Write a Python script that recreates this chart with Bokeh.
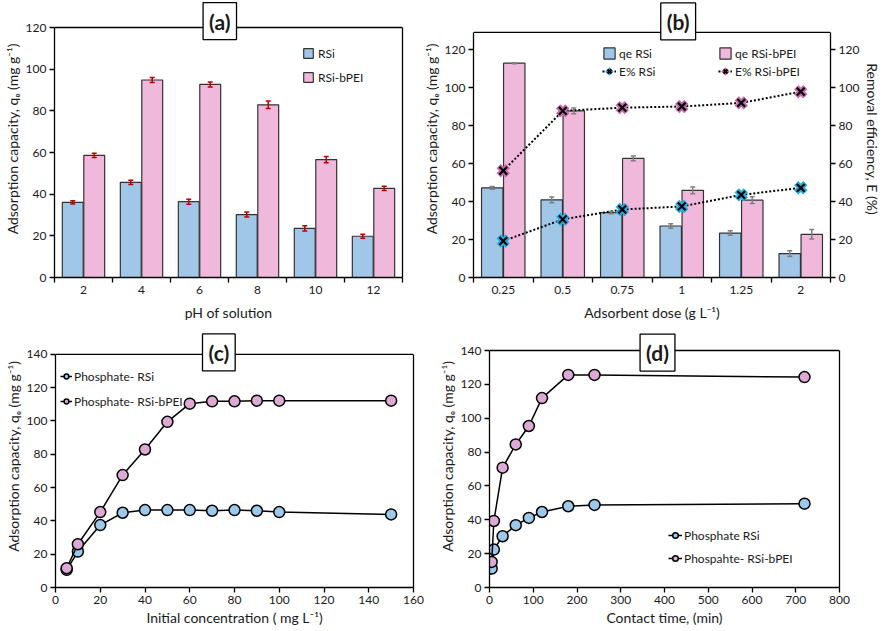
import numpy as np
from bokeh.plotting import figure
from bokeh.models import (Range1d, LinearAxis, FixedTicker, Legend, LegendItem, Label, Span,
                          Whisker, TeeHead, ColumnDataSource)
from bokeh.layouts import row, column
from bokeh.embed import file_html
from bokeh.resources import INLINE

FONT = "Lato"
TXT = "#1a1a1a"
BLUE = "#A0C6E8"
PINK = "#F0B9DC"
MBLUE = "#9CC8EA"
MPINK = "#DDAAD4"
CYAN = "#1FB0E6"
MAUVE = "#C86AAE"
RED = "#C00000"

# ---------------- data ----------------
ph_labels = ["2", "4", "6", "8", "10", "12"]
ph_rsi = [36.1, 45.7, 36.4, 30.2, 23.6, 19.8]
ph_rsi_err = [0.8, 1.0, 1.2, 1.2, 1.3, 1.0]
ph_bpei = [58.6, 94.8, 92.7, 82.9, 56.6, 42.8]
ph_bpei_err = [1.0, 1.2, 1.2, 1.8, 1.5, 1.0]

dose_labels = ["0.25", "0.5", "0.75", "1", "1.25", "2"]
dose_rsi = [47.2, 40.9, 34.1, 27.1, 23.4, 12.6]
dose_rsi_err = [0.7, 1.5, 0.6, 1.2, 1.2, 1.5]
dose_bpei = [112.8, 87.7, 62.7, 45.9, 40.7, 22.7]
dose_bpei_err = [0.3, 1.5, 1.2, 1.8, 1.8, 2.5]
eff_rsi = [19.2, 30.6, 35.8, 37.4, 43.5, 47.2]
eff_bpei = [56.2, 87.7, 89.4, 90.0, 91.9, 97.8]

conc = [5, 10, 20, 30, 40, 50, 60, 70, 80, 90, 100, 150]
conc_rsi = [10.6, 21.6, 37.5, 44.9, 46.5, 46.5, 46.5, 46.1, 46.5, 46.1, 45.3, 43.9]
conc_bpei = [11.6, 26.0, 45.3, 67.5, 82.9, 99.5, 110.4, 111.8, 111.8, 112.2, 112.2, 112.2]

time_min = [5, 10, 30, 60, 90, 120, 180, 240, 720]
time_rsi = [11.2, 22.4, 30.3, 36.8, 41.1, 44.6, 48.0, 48.8, 49.5]
time_bpei = [15.1, 39.3, 70.8, 84.5, 95.4, 111.9, 125.6, 125.6, 124.3]

YLABEL = "Adsorption capacity, q\u2091 (mg g\u207b\u00b9)"


def style_axis(ax):
    ax.axis_line_color = "black"
    ax.axis_line_width = 1.3
    ax.major_tick_line_color = "black"
    ax.major_tick_line_width = 1.3
    ax.major_tick_in = 0
    ax.major_tick_out = 5
    ax.minor_tick_line_color = None
    ax.major_label_text_font = FONT
    ax.major_label_text_font_size = "12px"
    ax.major_label_text_color = TXT
    ax.major_label_standoff = 3
    ax.axis_label_text_font = FONT
    ax.axis_label_text_font_size = "14px"
    ax.axis_label_text_font_style = "normal"
    ax.axis_label_text_color = TXT
    ax.axis_label_standoff = 2


def style(p, ytop, right_axis=True):
    """Excel-like box: frame top drawn at ytop (the data range extends a bit above it)."""
    p.outline_line_color = None
    p.xgrid.visible = False
    p.ygrid.visible = False
    if right_axis:
        ra = LinearAxis(ticker=FixedTicker(ticks=[]))
        p.add_layout(ra, "right")
    for ax in p.axis:
        style_axis(ax)
    for ax in p.yaxis:
        ax.bounds = (0, ytop)
    p.add_layout(Span(location=ytop, dimension="width", line_color="black", line_width=1.3))


def make_legend(items, loc, **kw):
    lg = Legend(items=items, location=loc, background_fill_alpha=0, border_line_color=None,
                label_text_font=FONT, label_text_font_size="12px", label_text_color=TXT,
                label_height=16, margin=0, **kw)
    return lg


def title_box(p, x, y, text):
    p.add_layout(Label(x=x, y=y, text=text, text_font=FONT, text_font_style="bold",
                       text_font_size="21px", text_align="center", text_baseline="middle",
                       text_color=TXT, background_fill_color="white", border_line_color="black",
                       border_line_width=1.3, padding=6))


def cat_xaxis(p, labels):
    n = len(labels)
    centers = [i + 0.5 for i in range(n)]
    p.xaxis.ticker = FixedTicker(ticks=centers, minor_ticks=list(range(n + 1)))
    p.xaxis.major_label_overrides = {c: l for c, l in zip(centers, labels)}
    p.xaxis.major_tick_out = 0
    p.xaxis.minor_tick_in = 0
    p.xaxis.minor_tick_out = 5
    p.xaxis.minor_tick_line_color = "black"
    p.xaxis.minor_tick_line_width = 1.3
    p.xaxis.major_label_standoff = 3
    p.xaxis.axis_label_standoff = 7


def bars_with_err(p, idx, vals, errs, off, color, errcolor):
    x = [i + 0.5 + off for i in idx]
    r = p.vbar(x=x, top=vals, width=0.36, fill_color=color, line_color="#333333", line_width=1.2)
    src = ColumnDataSource(dict(x=x, u=[v + e for v, e in zip(vals, errs)],
                                l=[v - e for v, e in zip(vals, errs)]))
    w = Whisker(base="x", upper="u", lower="l", source=src, line_color=errcolor, line_width=1.5,
                upper_head=TeeHead(size=5, line_color=errcolor, line_width=1.5),
                lower_head=TeeHead(size=5, line_color=errcolor, line_width=1.5), level="overlay")
    p.add_layout(w)
    return r


# ---------------- (a) ----------------
pa = figure(width=413, height=325, x_range=Range1d(0, 6), y_range=Range1d(0, 132.96),
            output_backend="svg", toolbar_location=None,
            min_border_left=53, min_border_right=11, min_border_top=0, min_border_bottom=48)
idx = list(range(len(ph_labels)))
ra1 = bars_with_err(pa, idx, ph_rsi, ph_rsi_err, -0.185, BLUE, RED)
ra2 = bars_with_err(pa, idx, ph_bpei, ph_bpei_err, 0.185, PINK, RED)
style(pa, 120)
cat_xaxis(pa, ph_labels)
pa.yaxis[0].ticker = list(range(0, 121, 20))
pa.xaxis.axis_label = "pH of solution"
pa.yaxis[0].axis_label = YLABEL
pa.add_layout(make_legend([LegendItem(label="RSi", renderers=[ra1]),
                           LegendItem(label="RSi-bPEI", renderers=[ra2])], (248, 192),
                          glyph_width=12, glyph_height=12, spacing=8,
                          padding=5, label_standoff=4))
title_box(pa, 2.85, 123.1, "(a)")

# ---------------- (b) ----------------
pb = figure(width=471, height=325, x_range=Range1d(0, 6), y_range=Range1d(0, 145.8),
            output_backend="svg", toolbar_location=None,
            min_border_left=60, min_border_right=53, min_border_top=0, min_border_bottom=47)
pb.extra_y_ranges = {"eff": Range1d(0, 145.8)}
pb.add_layout(LinearAxis(y_range_name="eff", axis_label="Removal efficiency, E (%)"), "right")
idx = list(range(len(dose_labels)))
rb1 = bars_with_err(pb, idx, dose_rsi, dose_rsi_err, -0.185, BLUE, "#7F7F7F")
rb2 = bars_with_err(pb, idx, dose_bpei, dose_bpei_err, 0.185, PINK, "#7F7F7F")
xc = [i + 0.5 for i in idx]
l1 = pb.line(xc, eff_rsi, line_color="black", line_width=2, line_dash="2 2", y_range_name="eff")
h1 = pb.scatter(xc, eff_rsi, marker="x", size=13, line_color=CYAN, line_width=6, y_range_name="eff")
m1 = pb.scatter(xc, eff_rsi, marker="x", size=11, line_color="black", line_width=2.2, y_range_name="eff")
l2 = pb.line(xc, eff_bpei, line_color="black", line_width=2, line_dash="2 2", y_range_name="eff")
h2 = pb.scatter(xc, eff_bpei, marker="x", size=13, line_color=MAUVE, line_width=6, y_range_name="eff")
m2 = pb.scatter(xc, eff_bpei, marker="x", size=11, line_color="black", line_width=2.2, y_range_name="eff")
style(pb, 129, right_axis=False)
cat_xaxis(pb, dose_labels)
for ax in pb.yaxis:
    ax.ticker = list(range(0, 121, 20))
pb.xaxis.axis_label = "Adsorbent dose (g L\u207b\u00b9)"
pb.yaxis[0].axis_label = YLABEL
pb.add_layout(make_legend([LegendItem(label="qe RSi", renderers=[rb1]),
                           LegendItem(label="E% RSi", renderers=[l1, h1, m1]),
                           LegendItem(label="qe RSi-bPEI", renderers=[rb2]),
                           LegendItem(label="E% RSi-bPEI", renderers=[l2, h2, m2])], (129, 198),
                          ncols=2, glyph_width=14, glyph_height=14, spacing=2,
                          padding=5, label_standoff=3, label_width=97))
title_box(pb, 3.44, 134.8, "(b)")

# ---------------- (c) ----------------
pc = figure(width=430, height=305, x_range=Range1d(0, 160), y_range=Range1d(0, 157.35),
            output_backend="svg", toolbar_location=None,
            min_border_left=55, min_border_right=17, min_border_top=0, min_border_bottom=42)
lc1 = pc.line(conc, conc_rsi, line_color="black", line_width=1.5)
sc1 = pc.scatter(conc, conc_rsi, marker="circle", size=11, fill_color=MBLUE, line_color="black", line_width=1.5)
lc2 = pc.line(conc, conc_bpei, line_color="black", line_width=1.5)
sc2 = pc.scatter(conc, conc_bpei, marker="circle", size=11, fill_color=MPINK, line_color="black", line_width=1.5)
style(pc, 140)
pc.xaxis.ticker = list(range(0, 161, 20))
pc.yaxis[0].ticker = list(range(0, 141, 20))
pc.xaxis.axis_label = "Initial concentration ( mg L\u207b\u00b9)"
pc.yaxis[0].axis_label = YLABEL
pc.add_layout(make_legend([LegendItem(label="Phosphate- RSi", renderers=[lc1, sc1]),
                           LegendItem(label="Phosphate- RSi-bPEI", renderers=[lc2, sc2])], (5, 178),
                          glyph_width=12, glyph_height=14, spacing=9,
                          padding=5, label_standoff=2))
title_box(pc, 73, 141.2, "(c)")

# ---------------- (d) ----------------
pd_ = figure(width=454, height=305, x_range=Range1d(0, 800), y_range=Range1d(0, 154.77),
             output_backend="svg", toolbar_location=None,
             min_border_left=59, min_border_right=45, min_border_top=0, min_border_bottom=43)
ld1 = pd_.line(time_min, time_rsi, line_color="black", line_width=1.5)
sd1 = pd_.scatter(time_min, time_rsi, marker="circle", size=11, fill_color=MBLUE, line_color="black", line_width=1.5)
ld2 = pd_.line(time_min, time_bpei, line_color="black", line_width=1.5)
sd2 = pd_.scatter(time_min, time_bpei, marker="circle", size=11, fill_color=MPINK, line_color="black", line_width=1.5)
style(pd_, 140)
pd_.xaxis.ticker = list(range(0, 801, 100))
pd_.yaxis[0].ticker = list(range(0, 141, 20))
pd_.xaxis.axis_label = "Contact time, (min)"
pd_.yaxis[0].axis_label = YLABEL
pd_.add_layout(make_legend([LegendItem(label="Phosphate RSi", renderers=[ld1, sd1]),
                            LegendItem(label="Phospahte- RSi-bPEI", renderers=[ld2, sd2])], (179, 21),
                           glyph_width=14, glyph_height=14, spacing=7,
                           padding=5, label_standoff=2))
title_box(pd_, 384, 138.8, "(d)")

layout = column(row(pa, pb), row(pc, pd_))
open("out.html", "w").write(file_html(layout, INLINE))
